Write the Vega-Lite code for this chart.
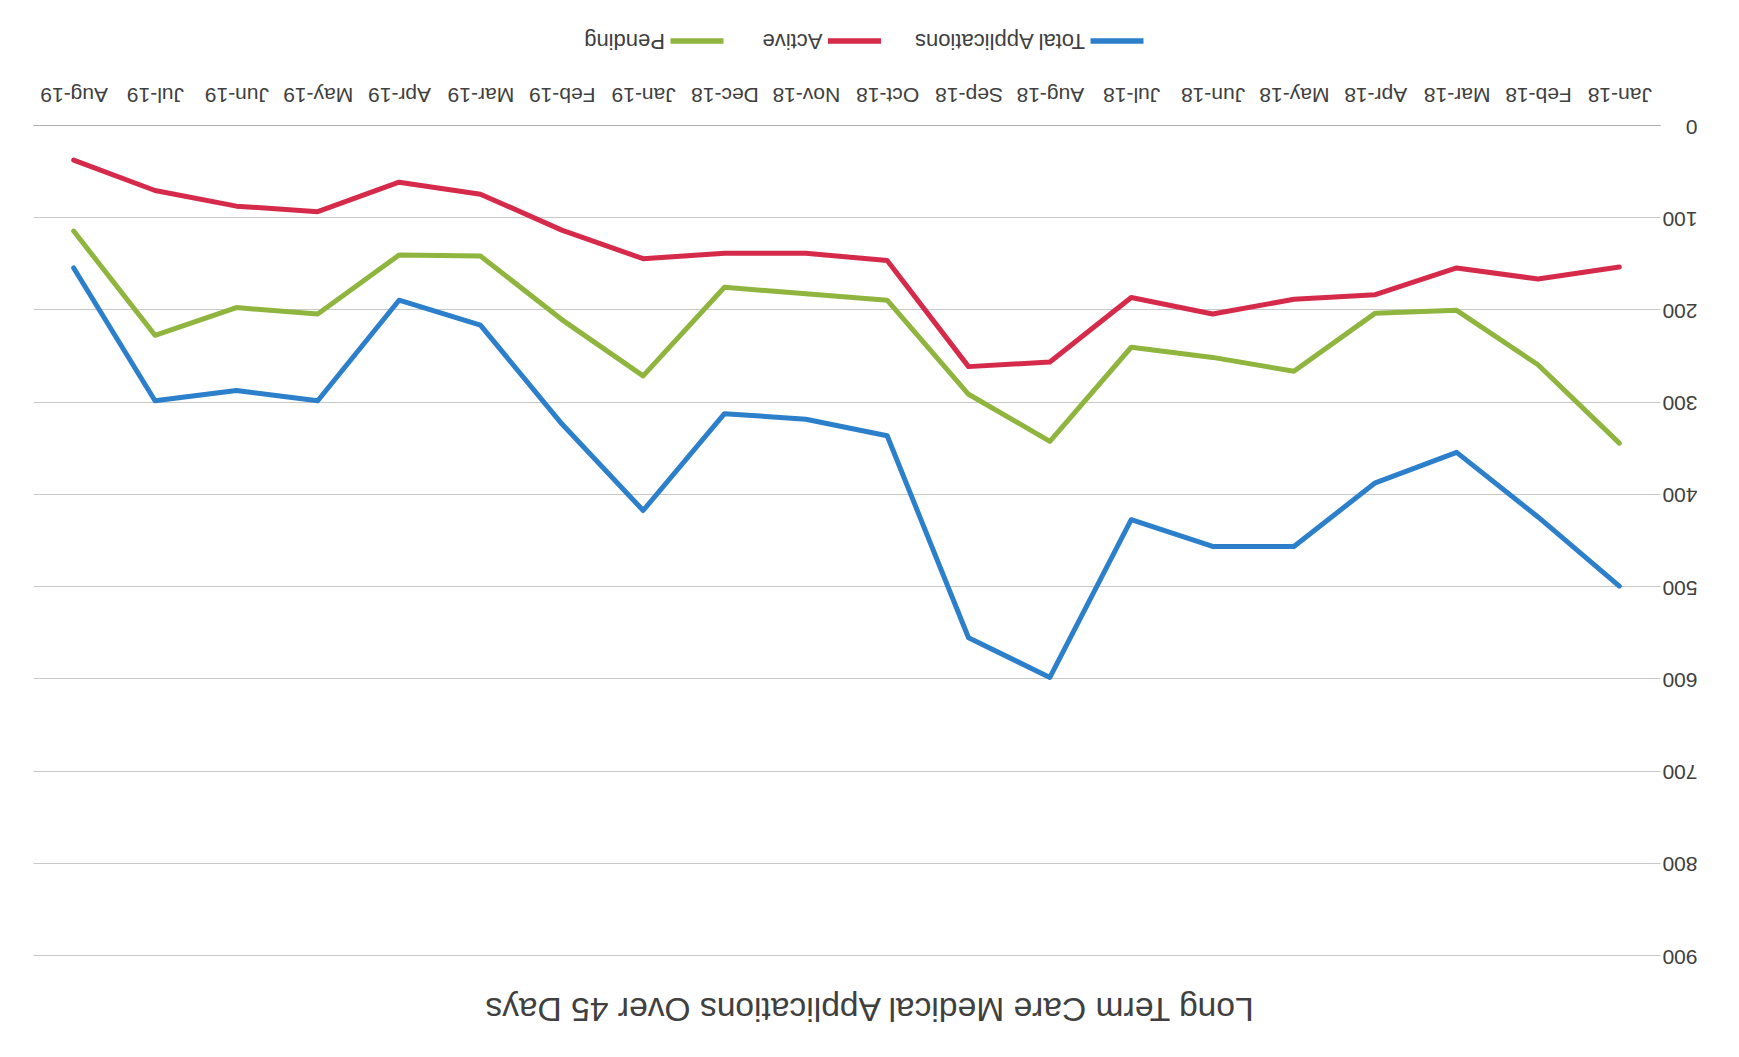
{
  "$schema": "https://vega.github.io/schema/vega-lite/v6.json",
  "padding": {"left": 33, "top": 21, "right": 0, "bottom": 0},
  "background": "white",
  "spacing": 21,
  "config": {"view": {"stroke": null}, "font": "Liberation Sans"},
  "datasets": {
    "legendRows": [
      {"series": "Total Applications"},
      {"series": "Active"},
      {"series": "Pending"}
    ],
    "rows": [
      {"month": "Jan-18", "series": "Total Applications", "value": 500},
      {"month": "Feb-18", "series": "Total Applications", "value": 425},
      {"month": "Mar-18", "series": "Total Applications", "value": 355},
      {"month": "Apr-18", "series": "Total Applications", "value": 388},
      {"month": "May-18", "series": "Total Applications", "value": 457},
      {"month": "Jun-18", "series": "Total Applications", "value": 457},
      {"month": "Jul-18", "series": "Total Applications", "value": 428},
      {"month": "Aug-18", "series": "Total Applications", "value": 599},
      {"month": "Sep-18", "series": "Total Applications", "value": 556},
      {"month": "Oct-18", "series": "Total Applications", "value": 337},
      {"month": "Nov-18", "series": "Total Applications", "value": 319},
      {"month": "Dec-18", "series": "Total Applications", "value": 313},
      {"month": "Jan-19", "series": "Total Applications", "value": 418},
      {"month": "Feb-19", "series": "Total Applications", "value": 324},
      {"month": "Mar-19", "series": "Total Applications", "value": 217},
      {"month": "Apr-19", "series": "Total Applications", "value": 190},
      {"month": "May-19", "series": "Total Applications", "value": 299},
      {"month": "Jun-19", "series": "Total Applications", "value": 288},
      {"month": "Jul-19", "series": "Total Applications", "value": 299},
      {"month": "Aug-19", "series": "Total Applications", "value": 155},
      {"month": "Jan-18", "series": "Active", "value": 154},
      {"month": "Feb-18", "series": "Active", "value": 167},
      {"month": "Mar-18", "series": "Active", "value": 155},
      {"month": "Apr-18", "series": "Active", "value": 184},
      {"month": "May-18", "series": "Active", "value": 189},
      {"month": "Jun-18", "series": "Active", "value": 205},
      {"month": "Jul-18", "series": "Active", "value": 187},
      {"month": "Aug-18", "series": "Active", "value": 257},
      {"month": "Sep-18", "series": "Active", "value": 262},
      {"month": "Oct-18", "series": "Active", "value": 147},
      {"month": "Nov-18", "series": "Active", "value": 139},
      {"month": "Dec-18", "series": "Active", "value": 139},
      {"month": "Jan-19", "series": "Active", "value": 145},
      {"month": "Feb-19", "series": "Active", "value": 114},
      {"month": "Mar-19", "series": "Active", "value": 75},
      {"month": "Apr-19", "series": "Active", "value": 62},
      {"month": "May-19", "series": "Active", "value": 94},
      {"month": "Jun-19", "series": "Active", "value": 88},
      {"month": "Jul-19", "series": "Active", "value": 71},
      {"month": "Aug-19", "series": "Active", "value": 38},
      {"month": "Jan-18", "series": "Pending", "value": 345},
      {"month": "Feb-18", "series": "Pending", "value": 260},
      {"month": "Mar-18", "series": "Pending", "value": 201},
      {"month": "Apr-18", "series": "Pending", "value": 204},
      {"month": "May-18", "series": "Pending", "value": 267},
      {"month": "Jun-18", "series": "Pending", "value": 252},
      {"month": "Jul-18", "series": "Pending", "value": 241},
      {"month": "Aug-18", "series": "Pending", "value": 343},
      {"month": "Sep-18", "series": "Pending", "value": 292},
      {"month": "Oct-18", "series": "Pending", "value": 190},
      {"month": "Nov-18", "series": "Pending", "value": 183},
      {"month": "Dec-18", "series": "Pending", "value": 176},
      {"month": "Jan-19", "series": "Pending", "value": 272},
      {"month": "Feb-19", "series": "Pending", "value": 211},
      {"month": "Mar-19", "series": "Pending", "value": 142},
      {"month": "Apr-19", "series": "Pending", "value": 141},
      {"month": "May-19", "series": "Pending", "value": 205},
      {"month": "Jun-19", "series": "Pending", "value": 198},
      {"month": "Jul-19", "series": "Pending", "value": 228},
      {"month": "Aug-19", "series": "Pending", "value": 115}
    ]
  },
  "vconcat": [
    {
      "width": 1627,
      "height": 40,
      "data": {"name": "legendRows"},
      "encoding": {
        "x": {"field": "series", "type": "nominal", "scale": {"type": "point", "domain": ["Pending", "gap1", "gap2", "Active", "gap3", "gap4", "gap5", "gap6", "Total Applications"], "padding": 0, "range": [664, 1084]}, "axis": null}
      },
      "layer": [
        {
          "mark": {"type": "point", "shape": "M-1,-0.1L1,-0.1L1,0.1L-1,0.1Z", "size": 2809, "filled": true, "opacity": 1, "strokeWidth": 0},
          "encoding": {
            "color": {"field": "series", "type": "nominal", "scale": {"domain": ["Total Applications", "Active", "Pending"], "range": ["#2c7fcb", "#d62a4b", "#8fb53f"]}, "legend": null}
          }
        },
        {
          "mark": {"type": "text", "angle": 180, "align": "left", "baseline": "middle", "dx": 32, "fontSize": 22, "color": "#404040"},
          "encoding": {
            "text": {"field": "series"}
          }
        }
      ]
    },
    {
      "width": 1627,
      "height": 830,
      "data": {"name": "rows"},
      "title": {"text": "Long Term Care Medical Applications Over 45 Days", "orient": "bottom", "angle": 180, "baseline": "middle", "anchor": "middle", "fontSize": 33.6, "fontWeight": "normal", "color": "#404040", "offset": 42, "dx": -23},
      "mark": {"type": "line", "strokeWidth": 5, "strokeCap": "round", "strokeJoin": "round"},
      "encoding": {
        "x": {
          "field": "month", "type": "ordinal", "sort": null,
          "scale": {"type": "point", "padding": 0.5, "domain": ["Aug-19", "Jul-19", "Jun-19", "May-19", "Apr-19", "Mar-19", "Feb-19", "Jan-19", "Dec-18", "Nov-18", "Oct-18", "Sep-18", "Aug-18", "Jul-18", "Jun-18", "May-18", "Apr-18", "Mar-18", "Feb-18", "Jan-18"]},
          "axis": {"orient": "top", "title": null, "labelAngle": 180, "labelAlign": "center", "labelBaseline": "middle", "labelPadding": 32, "ticks": false, "tickSize": 0, "domain": true, "domainColor": "#b0b0b0", "labelFontSize": 21, "labelColor": "#404040", "labelOverlap": false, "grid": false}
        },
        "y": {
          "field": "value", "type": "quantitative",
          "scale": {"domain": [0, 900], "reverse": true, "nice": false},
          "axis": {"orient": "right", "title": null, "values": [0, 100, 200, 300, 400, 500, 600, 700, 800, 900], "grid": true, "gridColor": "#c8c8c8", "domain": false, "ticks": false, "tickSize": 0, "labelAngle": 180, "labelAlign": "left", "labelBaseline": "middle", "labelPadding": 37, "labelFontSize": 21, "labelColor": "#404040"}
        },
        "color": {"field": "series", "type": "nominal", "scale": {"domain": ["Total Applications", "Active", "Pending"], "range": ["#2c7fcb", "#d62a4b", "#8fb53f"]}, "legend": null}
      }
    }
  ]
}
